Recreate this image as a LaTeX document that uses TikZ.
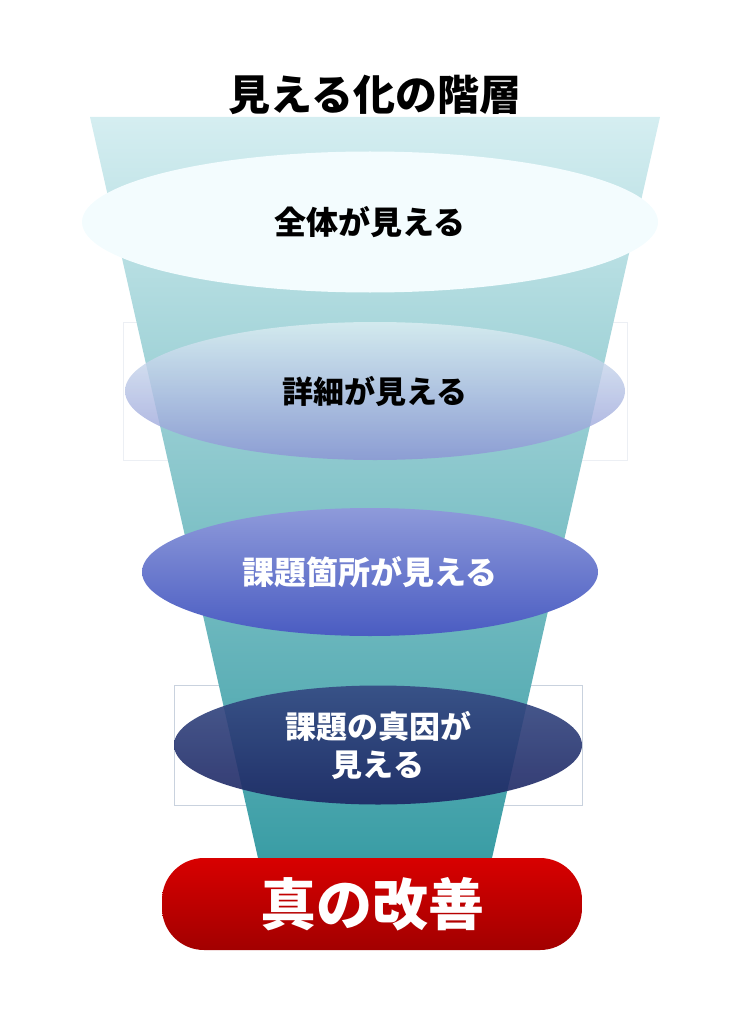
\documentclass[tikz,border=0pt]{standalone}
\usepackage{fontspec}
\setmainfont{Noto Sans CJK JP}
\usepackage{tikz}
\usetikzlibrary{shapes.geometric}

\definecolor{funtop}{HTML}{D5EEF1}
\definecolor{funbot}{HTML}{3A9DA5}
\definecolor{wholefill}{HTML}{F3FCFE}
\definecolor{dettop}{HTML}{DDEFF3}
\definecolor{detbot}{HTML}{8C93D5}
\definecolor{isstop}{HTML}{8E9ADA}
\definecolor{issbot}{HTML}{4A5CC2}
\definecolor{caustop}{HTML}{344882}
\definecolor{causbot}{HTML}{1C2562}
\definecolor{redtop}{HTML}{D80000}
\definecolor{redbot}{HTML}{A20000}
\definecolor{boxline}{HTML}{C9D2DE}

\begin{document}
\begin{tikzpicture}[x=1pt,y=-1pt]
        \tikzstyle{every node} = [inner sep=0pt]
        \tikzstyle{level} = [ellipse, draw=none]
        \useasboundingbox (0,0) rectangle (737,1024);
        \draw[boxline, line width=0.6pt] (174,685) rectangle (582,805);
        \draw[boxline!35, line width=0.5pt] (123,322) rectangle (627,460);
        \shade[top color=funtop, bottom color=funbot] (90,117) -- (660,117) -- (492,858) -- (258,858) -- cycle;
        \node[font=\bfseries\fontsize{42pt}{46pt}\selectfont] (title) at (375,95) {見える化の階層};
        \node[level, fill=wholefill, minimum width=576pt, minimum height=141pt,
            font=\bfseries\fontsize{32pt}{36pt}\selectfont] (whole) at (370,222) {全体が見える};
        \node[level, top color=dettop, bottom color=detbot, fill opacity=0.8, text opacity=1,
            minimum width=500pt, minimum height=138pt,
            font=\bfseries\fontsize{31pt}{36pt}\selectfont] (detail) at (375,391) {詳細が見える};
        \node[level, top color=isstop, bottom color=issbot, text=white,
            minimum width=456pt, minimum height=128pt,
            font=\bfseries\fontsize{32pt}{36pt}\selectfont] (issue) at (370,572) {課題箇所が見える};
        \node[level, top color=caustop, bottom color=causbot, fill opacity=0.9, text opacity=1,
            text=white, align=center, minimum width=408pt, minimum height=119pt,
            font=\bfseries\fontsize{31pt}{38pt}\selectfont] (cause) at (378,745) {課題の真因が\\見える};
        \node[rectangle, rounded corners=42pt, top color=redtop, bottom color=redbot, text=white,
            minimum width=420pt, minimum height=92pt,
            font=\bfseries\fontsize{56pt}{60pt}\selectfont] (kaizen) at (372,904) {真の改善};
    \end{tikzpicture}
\end{document}
